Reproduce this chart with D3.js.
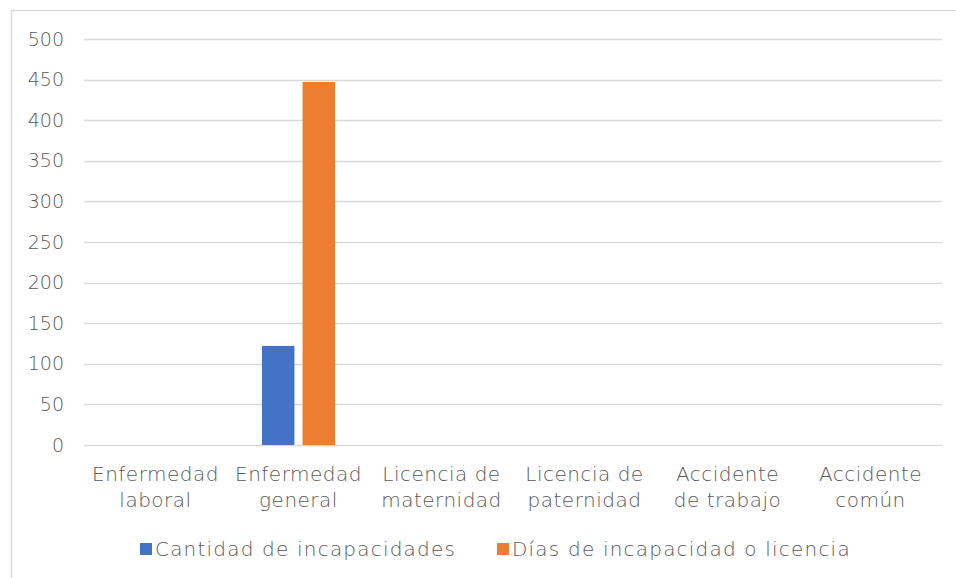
<!DOCTYPE html>
<html>
<head>
<meta charset="utf-8">
<script src="https://cdn.jsdelivr.net/npm/d3@7"></script>
<style>
  body { margin: 0; background: #fff; }
  text { font-family: "Century Gothic", "URW Gothic", "DejaVu Sans", sans-serif; fill: #595959; font-weight: 300; }
</style>
</head>
<body>
<div id="chart"></div>
<script>
// Data
var categories = [
  ["Enfermedad", "laboral"],
  ["Enfermedad", "general"],
  ["Licencia de", "maternidad"],
  ["Licencia de", "paternidad"],
  ["Accidente", "de trabajo"],
  ["Accidente", "común"]
];
var seriesNames = ["Cantidad de incapacidades", "Días de incapacidad o licencia"];
var cantidad = [0, 122, 0, 0, 0, 0];
var dias = [0, 447, 0, 0, 0, 0];
var yTicks = [0, 50, 100, 150, 200, 250, 300, 350, 400, 450, 500];
var colors = ["#4472c4", "#ed7d31"];

var width = 956, height = 578;
var svg = d3.select("#chart").append("svg")
  .attr("width", width)
  .attr("height", height);

// Chart border
svg.append("rect")
  .attr("x", 11.5).attr("y", 10.5)
  .attr("width", 960).attr("height", 580)
  .attr("fill", "none")
  .attr("stroke", "#d9d9d9")
  .attr("stroke-width", 1.5);

var plotLeft = 84, plotRight = 942, plotTop = 39, plotBottom = 445;

var x = d3.scaleBand()
  .domain(d3.range(categories.length))
  .range([plotLeft, plotRight]);

var xInner = d3.scaleBand()
  .domain([0, 1])
  .range([0, x.bandwidth()])
  .paddingInner(0.2)
  .paddingOuter(0.86);

var y = d3.scaleLinear()
  .domain([0, 500])
  .range([plotBottom, plotTop]);

// Gridlines
svg.append("g")
  .selectAll("line")
  .data(yTicks)
  .enter()
  .append("line")
  .attr("x1", plotLeft)
  .attr("x2", plotRight)
  .attr("y1", function (d) { return Math.round(y(d)) + 0.5; })
  .attr("y2", function (d) { return Math.round(y(d)) + 0.5; })
  .attr("stroke", "#d9d9d9")
  .attr("stroke-width", 1.5);

// Y axis labels
var yAxis = d3.axisLeft(y).tickValues(yTicks).tickSize(0).tickPadding(0);
var yg = svg.append("g")
  .attr("transform", "translate(64,0)")
  .call(yAxis);
yg.select(".domain").remove();
yg.selectAll("text")
  .attr("font-size", "19px")
  .attr("font-family", null)
  .attr("fill", "#595959");

// Bars
var series = [cantidad, dias];
series.forEach(function (vals, s) {
  svg.append("g")
    .selectAll("rect")
    .data(vals)
    .enter()
    .append("rect")
    .attr("x", function (d, i) { return x(i) + xInner(s); })
    .attr("y", function (d) { return y(d); })
    .attr("width", xInner.bandwidth())
    .attr("height", function (d) { return plotBottom - y(d); })
    .attr("fill", colors[s]);
});

// Category labels
var cat = svg.append("g")
  .selectAll("text")
  .data(categories)
  .enter()
  .append("text")
  .attr("text-anchor", "middle")
  .attr("font-size", "20px")
  .attr("letter-spacing", "0.5px")
  .attr("x", function (d, i) { return x(i) + x.bandwidth() / 2; })
  .attr("y", 481);
cat.selectAll("tspan")
  .data(function (d) { return d; })
  .enter()
  .append("tspan")
  .attr("x", function () { return d3.select(this.parentNode).attr("x"); })
  .attr("dy", function (d, i) { return i === 0 ? 0 : 26; })
  .text(function (d) { return d; });

// Legend
var legendX = [140, 497];
var legend = svg.selectAll(".legend")
  .data(seriesNames)
  .enter()
  .append("g")
  .attr("class", "legend")
  .attr("transform", function (d, i) { return "translate(" + legendX[i] + ",543)"; });

legend.append("rect")
  .attr("width", 12)
  .attr("height", 12)
  .attr("fill", function (d, i) { return colors[i]; });

legend.append("text")
  .attr("x", 15)
  .attr("y", 13)
  .attr("font-size", "20px")
  .attr("letter-spacing", "1.2px")
  .text(function (d) { return d; });
</script>
</body>
</html>
